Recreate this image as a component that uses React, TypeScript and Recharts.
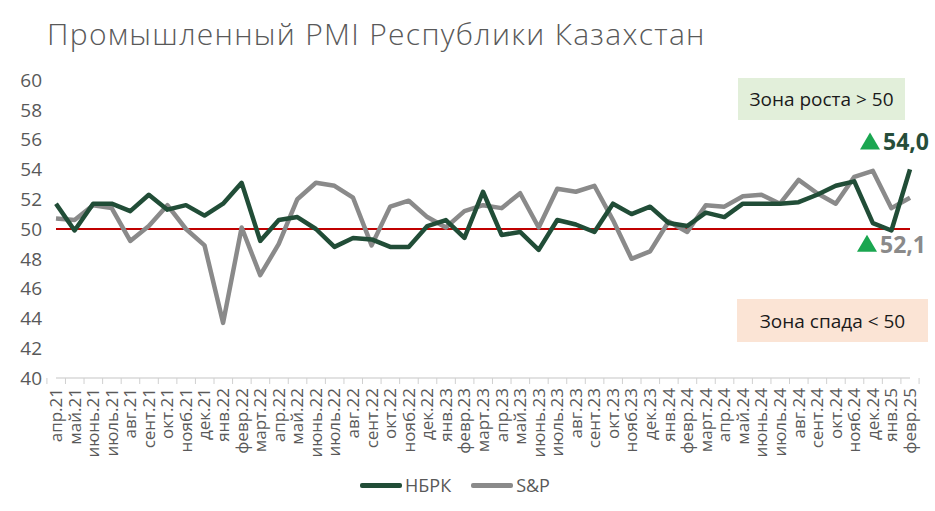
import React from 'react'
import { LineChart, Line, XAxis, YAxis, Legend, ReferenceLine, ReferenceDot } from 'recharts'

const months = [
  'апр.21', 'май.21', 'июнь.21', 'июль.21', 'авг.21', 'сент.21', 'окт.21', 'нояб.21', 'дек.21',
  'янв.22', 'февр.22', 'март.22', 'апр.22', 'май.22', 'июнь.22', 'июль.22', 'авг.22', 'сент.22',
  'окт.22', 'нояб.22', 'дек.22', 'янв.23', 'февр.23', 'март.23', 'апр.23', 'май.23', 'июнь.23',
  'июль.23', 'авг.23', 'сент.23', 'окт.23', 'нояб.23', 'дек.23', 'янв.24', 'февр.24', 'март.24',
  'апр.24', 'май.24', 'июнь.24', 'июль.24', 'авг.24', 'сент.24', 'окт.24', 'нояб.24', 'дек.24',
  'янв.25', 'февр.25'
]

const nbrk = [
  51.7, 49.9, 51.7, 51.7, 51.2, 52.3, 51.3, 51.6, 50.9, 51.7, 53.1, 49.2, 50.6, 50.8, 50.0, 48.8,
  49.4, 49.3, 48.8, 48.8, 50.2, 50.6, 49.4, 52.5, 49.6, 49.8, 48.6, 50.6, 50.3, 49.8, 51.7, 51.0,
  51.5, 50.4, 50.2, 51.1, 50.8, 51.7, 51.7, 51.7, 51.8, 52.3, 52.9, 53.2, 50.4, 49.9, 54.0
]

const sp = [
  50.7, 50.6, 51.6, 51.4, 49.2, 50.2, 51.6, 50.0, 48.9, 43.7, 50.1, 46.9, 49.0, 52.0, 53.1, 52.9,
  52.1, 48.9, 51.5, 51.9, 50.8, 50.1, 51.2, 51.6, 51.4, 52.4, 50.1, 52.7, 52.5, 52.9, 50.6, 48.0,
  48.5, 50.5, 49.8, 51.6, 51.5, 52.2, 52.3, 51.7, 53.3, 52.4, 51.7, 53.5, 53.9, 51.4, 52.1
]

const yTicks = [40, 42, 44, 46, 48, 50, 52, 54, 56, 58, 60]
const threshold = 50

const data = months.map((m, i) => ({ m, nbrk: nbrk[i], sp: sp[i] }))

const GREEN = '#214d37'
const GRAY = '#8a8a8a'
const TEXT = '#595959'
const FONT = '"Open Sans", sans-serif'

const W = 935
const H = 511
const M = { top: 80, right: 25, left: 0, bottom: 12 }
const Y_W = 56
const band = (W - M.left - M.right - Y_W) / months.length

const XTick = (props: any) => {
  const { x, y, payload, index } = props
  return (
    <g>
      <line x1={x - band / 2} x2={x - band / 2} y1={y - 8} y2={y - 2} stroke="#d0d0d0" strokeWidth={1} />
      {index === months.length - 1 && (
        <line x1={x + band / 2} x2={x + band / 2} y1={y - 8} y2={y - 2} stroke="#d0d0d0" strokeWidth={1} />
      )}
      <text
        x={x}
        y={y}
        transform={`rotate(-90 ${x} ${y})`}
        textAnchor="end"
        dy="0.35em"
        dx={-2}
        fill={TEXT}
        fontSize={17}
        fontFamily={FONT}
      >
        {payload.value}
      </text>
    </g>
  )
}

const LegendContent = () => (
  <div style={{ display: 'flex', justifyContent: 'center', gap: 20, fontFamily: FONT, fontSize: 18, color: TEXT }}>
    {[{ name: 'НБРК', c: GREEN }, { name: 'S&P', c: GRAY }].map((it) => (
      <div key={it.name} style={{ display: 'flex', alignItems: 'center' }}>
        <span style={{ display: 'inline-block', width: 42, height: 5, background: it.c, borderRadius: 2, marginRight: 3 }} />
        <span>{it.name}</span>
      </div>
    ))}
  </div>
)

const Note = (color: string, text: string, tx: number, ty: number) => (p: any) => {
  const { cx, cy } = p
  const x = cx + tx
  const y = cy + ty
  return (
    <g>
      <polygon points={`${x - 10},${y + 8} ${x + 10},${y + 8} ${x},${y - 9}`} fill="#1aa650" />
      <text x={x + 13} y={y + 9} fill={color} fontSize={23} fontWeight={700} fontFamily={FONT}>
        {text}
      </text>
    </g>
  )
}

const boxStyle: React.CSSProperties = {
  position: 'absolute',
  display: 'flex',
  alignItems: 'center',
  justifyContent: 'center',
  fontFamily: FONT,
  fontSize: 19,
  color: '#1a1a1a'
}

export default function App() {
  return (
    <div style={{ position: 'relative', width: W, height: H, background: '#fff', overflow: 'hidden' }}>
      <style>{'body{margin:0}'}</style>
      <div
        style={{
          position: 'absolute',
          left: 47,
          top: 13,
          fontFamily: FONT,
          fontSize: 30,
          fontWeight: 300,
          letterSpacing: 1.3,
          color: TEXT,
          whiteSpace: 'nowrap'
        }}
      >
        Промышленный PMI Республики Казахстан
      </div>
      <LineChart width={W} height={H} data={data} margin={M}>
        <XAxis
          dataKey="m"
          interval={0}
          height={95}
          tick={<XTick />}
          tickLine={false}
          axisLine={{ stroke: '#d9d9d9', strokeWidth: 1.5 }}
        />
        <YAxis
          width={Y_W}
          domain={[40, 60]}
          ticks={yTicks}
          interval={0}
          axisLine={false}
          tickLine={false}
          tickSize={0}
          tickMargin={14}
          tick={{ fill: TEXT, fontSize: 19, fontFamily: FONT }}
        />
        <ReferenceLine
          segment={[{ x: months[0], y: threshold }, { x: months[months.length - 1], y: threshold }]}
          stroke="#c00000"
          strokeWidth={2}
        />
        <Line dataKey="sp" name="S&P" stroke={GRAY} strokeWidth={4.5} dot={false} isAnimationActive={false} strokeLinejoin="round" />
        <Line dataKey="nbrk" name="НБРК" stroke={GREEN} strokeWidth={4.5} dot={false} isAnimationActive={false} strokeLinejoin="round" />
        <ReferenceDot x={months[months.length - 1]} y={nbrk[nbrk.length - 1]} shape={Note('#264d3a', '54,0', -40, -28)} />
        <ReferenceDot x={months[months.length - 1]} y={sp[sp.length - 1]} shape={Note(GRAY, '52,1', -43, 46)} />
        <Legend verticalAlign="bottom" height={26} content={<LegendContent />} />
      </LineChart>
      <div style={{ ...boxStyle, left: 738, top: 78, width: 167, height: 42, background: '#e2efda' }}>
        Зона роста &gt; 50
      </div>
      <div style={{ ...boxStyle, left: 737, top: 299, width: 191, height: 43, background: '#fbe4d5' }}>
        Зона спада &lt; 50
      </div>
    </div>
  )
}
